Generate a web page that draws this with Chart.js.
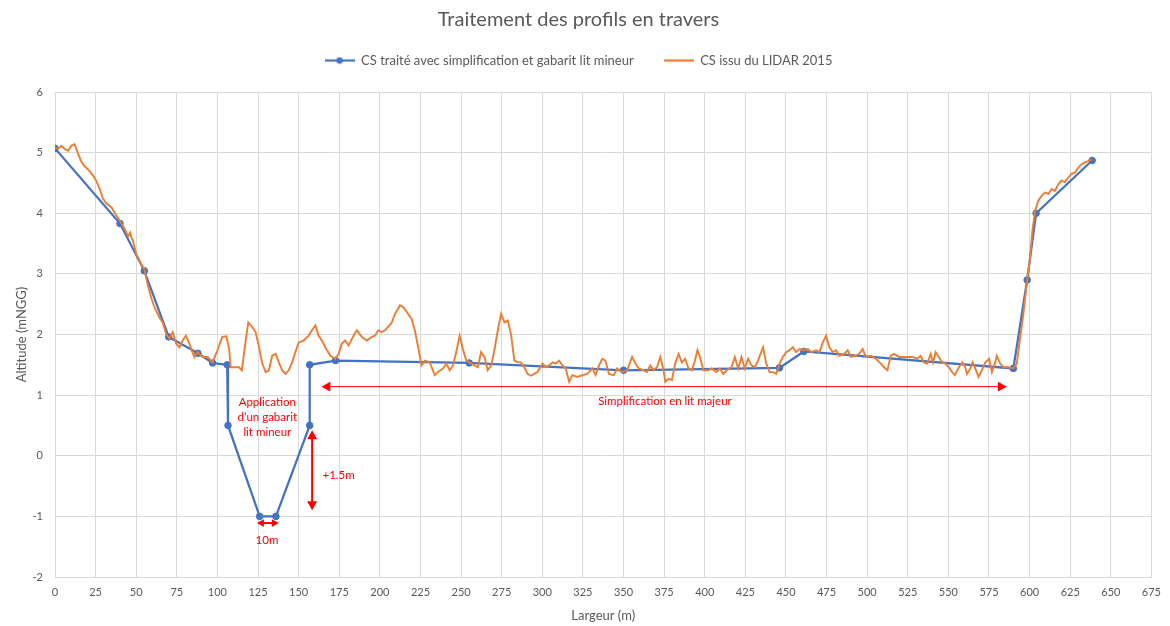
<!DOCTYPE html>
<html><head><meta charset="utf-8">
<script src="https://cdn.jsdelivr.net/npm/chart.js@4.4.1/dist/chart.umd.min.js"></script>
<style>html,body{margin:0;padding:0;background:#fff;}#wrap{width:1170px;height:626px;}</style>
</head><body><div id="wrap"><canvas id="c" width="1170" height="626"></canvas></div>
<script>
// ---------- DATA ----------
const chartTitle = "Traitement des profils en travers";
const seriesNames = ["CS traité avec simplification et gabarit lit mineur", "CS issu du LIDAR 2015"];
const xAxisTitle = "Largeur (m)";
const yAxisTitle = "Altitude (mNGG)";

// Simplified profile (blue)
const simpX = [0, 40, 55, 70, 88, 97, 106, 106.5, 126, 136, 156.8, 156.8, 172.7, 255, 350, 446, 461, 590, 598.5, 604, 638.5];
const simpY = [5.07, 3.83, 3.05, 1.96, 1.69, 1.53, 1.5, 0.5, -1, -1, 0.5, 1.5, 1.57, 1.53, 1.41, 1.45, 1.72, 1.44, 2.9, 4.0, 4.87];

// LIDAR 2015 profile (orange)
const lidarX = [0,2,4,6,8,10,12,14,16,18,20,23.5,25.5,27.5,29.6,31.7,34.7,36.7,39.8,42.9,45,46.3,47,48,50,53,55,57,59.2,61.2,64.3,66.3,68.4,70.4,72.5,74.5,76.6,78.6,80.6,82.7,84.7,85.8,87.8,90.8,93.9,97,100,103,105.5,107.2,108.2,111.3,113.3,115,117.4,119,121.5,123.5,125.6,127.6,129.7,131.7,133.7,135.8,137.8,139.8,141.9,143.9,146,148,150,153,156.2,158.2,160.3,162.3,164.3,166.4,169.5,172.5,174.6,176.6,178.6,180.7,183.8,185.8,188.8,191.9,195,197,199,201,203.2,205.2,207.2,209.3,212.4,214.4,217.4,219.5,221.5,223.6,225.6,227.7,230.7,233.8,235.8,238.9,240.9,243,245,247,249.1,251.1,253.2,255.2,258.3,260.3,262.3,264.4,266.4,268.5,270.5,272.6,274.6,276.7,278.7,280.7,282.8,284.8,286.8,288.9,290.9,293,295,297,300.1,302.2,304.2,306.3,308.3,310.3,312.4,314.4,316.5,318.5,321.6,324.6,327.7,330.8,332.8,334.9,336.9,338.9,341,344,346.1,349.1,352.2,355.3,357.3,359.4,362.4,364.4,366.5,368.5,370.6,372.6,374.7,375.7,377.7,379.8,381.8,383.9,385.9,387.9,390,392,394,395.5,397.1,399.1,402.2,404.2,407.3,409.3,411.4,413.4,416.5,418.5,420.6,422.6,424.6,426.7,428.7,430.8,432.8,435.9,437.9,439.9,442,444,446.1,448.1,450.2,452.2,454.3,456.3,458.3,460.4,463.5,465.5,468.6,470.6,472.7,474.7,476.7,478.8,480.8,482.9,485.9,488,490,493.1,495.1,497.2,499.2,502.3,505.3,508.4,510.4,512.5,514.5,516.6,519.6,523.8,527.8,530.9,532.9,534.9,537,539.1,540.5,542.1,544.1,546.2,548.2,550.3,552.3,553.9,556,558.4,560,561.5,563.5,564.9,566.5,568.6,570.6,572.7,575.1,576.8,578.8,579.8,581.9,583.9,587,590,592.1,594.2,596.2,598.2,600.3,601.7,603.4,605.4,607.5,609.5,611.6,613.6,615.6,617.7,619.7,621.7,623.8,625.8,627.9,629.9,632,634,636,638.1];
const lidarY = [5.08,5.07,5.11,5.06,5.03,5.11,5.14,5.0,4.86,4.78,4.73,4.62,4.53,4.40,4.24,4.16,4.10,4.01,3.88,3.74,3.62,3.68,3.6,3.55,3.33,3.16,3.08,2.83,2.61,2.45,2.28,2.20,2.01,1.93,2.04,1.85,1.79,1.90,1.98,1.85,1.70,1.63,1.71,1.63,1.63,1.54,1.74,1.96,1.97,1.76,1.46,1.46,1.46,1.41,1.90,2.20,2.12,2.04,1.79,1.52,1.38,1.41,1.65,1.68,1.54,1.41,1.35,1.41,1.54,1.71,1.87,1.90,1.98,2.07,2.15,1.98,1.90,1.79,1.65,1.60,1.68,1.85,1.90,1.82,1.98,2.07,1.96,1.90,1.96,1.98,2.07,2.04,2.07,2.13,2.19,2.34,2.48,2.45,2.34,2.26,2.07,1.79,1.49,1.57,1.54,1.33,1.38,1.44,1.52,1.41,1.49,1.71,1.98,1.76,1.57,1.54,1.49,1.46,1.71,1.63,1.41,1.49,1.74,2.07,2.34,2.20,2.23,2.01,1.57,1.54,1.54,1.46,1.35,1.32,1.35,1.38,1.52,1.46,1.49,1.54,1.52,1.57,1.49,1.44,1.22,1.33,1.30,1.33,1.35,1.44,1.33,1.49,1.60,1.57,1.35,1.33,1.44,1.38,1.41,1.63,1.52,1.44,1.41,1.38,1.49,1.41,1.46,1.63,1.41,1.22,1.27,1.25,1.52,1.68,1.54,1.60,1.44,1.41,1.57,1.74,1.63,1.41,1.41,1.44,1.38,1.44,1.35,1.41,1.46,1.63,1.44,1.63,1.44,1.60,1.49,1.46,1.57,1.79,1.52,1.38,1.38,1.35,1.52,1.63,1.71,1.74,1.79,1.71,1.76,1.74,1.76,1.71,1.74,1.71,1.87,1.98,1.79,1.71,1.74,1.65,1.68,1.74,1.63,1.65,1.68,1.76,1.63,1.65,1.60,1.52,1.46,1.41,1.65,1.68,1.63,1.63,1.63,1.60,1.65,1.54,1.52,1.68,1.54,1.71,1.63,1.54,1.52,1.46,1.38,1.33,1.44,1.54,1.49,1.35,1.44,1.54,1.44,1.30,1.41,1.54,1.60,1.38,1.54,1.65,1.52,1.46,1.46,1.44,1.52,1.95,2.35,2.83,3.27,3.71,4.04,4.21,4.29,4.34,4.32,4.40,4.37,4.48,4.54,4.51,4.59,4.65,4.67,4.75,4.81,4.84,4.86,4.89];

// Axis ranges / ticks
const xMin = 0, xMax = 675, xStep = 25;
const yMin = -2, yMax = 6, yStep = 1;

// Annotation texts
const txtMajeur = "Simplification en lit majeur";
const txtGabarit = ["Application", "d\u2019un gabarit", "lit mineur"];
const txtHauteur = "+1.5m";
const txtLargeur = "10m";

// ---------- CHART ----------
const BLUE = "#4472C4", ORANGE = "#ED7D31", RED = "#FF0000", GRID = "#D9D9D9", TXT = "#595959";
const FONT = "Lato, 'Open Sans', sans-serif";

function legendIcon(color, marker) {
  const cv = document.createElement("canvas");
  cv.width = 30; cv.height = 8;
  const c = cv.getContext("2d");
  c.strokeStyle = color; c.lineWidth = 2.25;
  c.beginPath(); c.moveTo(0, 4); c.lineTo(30, 4); c.stroke();
  if (marker) { c.fillStyle = color; c.beginPath(); c.arc(15, 4, 3.2, 0, Math.PI * 2); c.fill(); }
  return cv;
}
const icons = [legendIcon(BLUE, true), legendIcon(ORANGE, false)];

function arrow(ctx, x1, y1, x2, y2, head1, head2, lw, hs) {
  ctx.save();
  ctx.strokeStyle = RED; ctx.fillStyle = RED; ctx.lineWidth = lw;
  const ang = Math.atan2(y2 - y1, x2 - x1);
  const ins1 = head1 ? hs * 0.8 : 0, ins2 = head2 ? hs * 0.8 : 0;
  ctx.beginPath();
  ctx.moveTo(x1 + Math.cos(ang) * ins1, y1 + Math.sin(ang) * ins1);
  ctx.lineTo(x2 - Math.cos(ang) * ins2, y2 - Math.sin(ang) * ins2);
  ctx.stroke();
  function head(x, y, a) {
    ctx.beginPath();
    ctx.moveTo(x, y);
    ctx.lineTo(x - hs * Math.cos(a) + hs * 0.55 * Math.sin(a), y - hs * Math.sin(a) - hs * 0.55 * Math.cos(a));
    ctx.lineTo(x - hs * Math.cos(a) - hs * 0.55 * Math.sin(a), y - hs * Math.sin(a) + hs * 0.55 * Math.cos(a));
    ctx.closePath(); ctx.fill();
  }
  if (head2) head(x2, y2, ang);
  if (head1) head(x1, y1, ang + Math.PI);
  ctx.restore();
}

const annotations = {
  id: "annotations",
  afterDatasetsDraw(chart) {
    const ctx = chart.ctx, xs = chart.scales.x, ys = chart.scales.y;
    const X = v => xs.getPixelForValue(v), Y = v => ys.getPixelForValue(v);
    arrow(ctx, X(164), Y(1.14), X(586), Y(1.14), true, true, 1, 9);
    arrow(ctx, X(158.3), Y(0.42), X(158.3), Y(-0.9), true, true, 2, 9);
    arrow(ctx, X(124.3), Y(-1.11), X(137.8), Y(-1.11), true, true, 2, 7);
    ctx.save();
    ctx.fillStyle = RED; ctx.textAlign = "center"; ctx.textBaseline = "middle";
    ctx.font = "11.5px " + FONT;
    ctx.fillText(txtMajeur, X(375.5), Y(0.89));
    const gy = [0.885, 0.64, 0.39];
    txtGabarit.forEach((t, i) => ctx.fillText(t, X(130.7), Y(gy[i])));
    ctx.fillText(txtHauteur, X(174.6), Y(-0.32));
    ctx.fillText(txtLargeur, X(130.5), Y(-1.39));
    ctx.restore();
  }
};

const toPts = (xs, ys) => xs.map((x, i) => ({ x: x, y: ys[i] }));

new Chart(document.getElementById("c"), {
  type: "line",
  data: {
    datasets: [
      {
        label: seriesNames[0], data: toPts(simpX, simpY), order: 1,
        borderColor: BLUE, backgroundColor: BLUE, borderWidth: 2.25,
        pointRadius: 3.3, pointBackgroundColor: BLUE, pointBorderColor: BLUE, pointBorderWidth: 1,
        tension: 0, fill: false
      },
      {
        label: seriesNames[1], data: toPts(lidarX, lidarY), order: 0,
        borderColor: ORANGE, backgroundColor: ORANGE, borderWidth: 1.9,
        pointRadius: 0, tension: 0, fill: false
      }
    ]
  },
  options: {
    responsive: false, animation: false, devicePixelRatio: 1,
    layout: { padding: { left: 0, right: 13, top: 0, bottom: 0 } },
    plugins: {
      title: {
        display: true, text: chartTitle, color: TXT,
        font: { family: FONT, size: 20, weight: "normal" },
        padding: { top: 8, bottom: -8 }
      },
      subtitle: {
        display: true, text: "", weight: 500,
        font: { family: FONT, size: 10 },
        padding: { top: 3, bottom: 0 }
      },
      legend: {
        display: true, position: "top",
        labels: {
          color: TXT, font: { family: FONT, size: 13 },
          usePointStyle: true, pointStyleWidth: 30, boxHeight: 8, padding: 30,
          sort: (a, b) => a.datasetIndex - b.datasetIndex,
          generateLabels(chart) {
            const items = Chart.defaults.plugins.legend.labels.generateLabels(chart);
            items.forEach(it => { it.pointStyle = icons[it.datasetIndex]; });
            return items;
          }
        }
      },
      tooltip: { enabled: false }
    },
    scales: {
      x: {
        type: "linear", min: xMin, max: xMax,
        ticks: { stepSize: xStep, color: TXT, font: { family: FONT, size: 11 }, padding: 9, maxRotation: 0, autoSkip: false },
        grid: { color: GRID, drawTicks: false },
        border: { color: GRID },
        title: { display: true, text: xAxisTitle, color: TXT, font: { family: FONT, size: 13 }, padding: 2 },
        afterFit: s => { s.height = 49; }
      },
      y: {
        type: "linear", min: yMin, max: yMax,
        ticks: { stepSize: yStep, color: TXT, font: { family: FONT, size: 11 }, padding: 12 },
        grid: { color: GRID, drawTicks: false },
        border: { color: GRID },
        title: { display: true, text: yAxisTitle, color: TXT, font: { family: FONT, size: 13 }, padding: 14 },
        afterFit: s => { s.width = 55; }
      }
    }
  },
  plugins: [annotations]
});
</script>
</body></html>
